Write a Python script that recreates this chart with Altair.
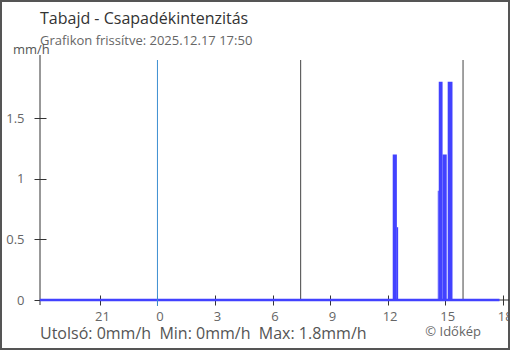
import altair as alt
import pandas as pd

TITLE = "Tabajd - Csapadékintenzitás"
SUBTITLE = "Grafikon frissítve: 2025.12.17 17:50"
UNIT = "mm/h"
CREDIT = "© Időkép"

WINDOW_START = "17:52"   # previous day
WINDOW_END = "17:50"

BAR_START = ["12:16", "12:29", "14:37", "14:40", "14:52", "15:08"]
BAR_END = ["12:29", "12:33", "14:40", "14:52", "15:05", "15:23"]
BAR_VALUE = [1.2, 0.6, 0.9, 1.8, 1.2, 1.8]

MIDNIGHT = ["00:00"]
SUN_LINES = ["07:28", "15:56"]

X_TICKS = [-3, 0, 3, 6, 9, 12, 15, 18]
Y_TICKS = [0, 0.5, 1, 1.5]

STAT_NAMES = ["Utolsó", "Min", "Max"]
STAT_VALUES = [0, 0, 1.8]

FONT = "Open Sans"
BLUE = "#4242ff"


def hours(t, prev_day=False):
    h, m = map(int, t.split(":"))
    v = h + m / 60
    return v - 24 if prev_day else v


W, H = 469, 245
x_scale = alt.Scale(domain=[-6.125, 18.33], nice=False, zero=False)
y_scale = alt.Scale(domain=[0, 2.02], nice=False)

X_AXIS = alt.Axis(values=X_TICKS, title=None, grid=False, domain=False, offset=-5,
                  tickSize=10, tickColor="#333", labelPadding=5, labelOffset=2,
                  labelFont=FONT, labelFontSize=13, labelColor="#666",
                  labelExpr="'' + (datum.value < 0 ? datum.value + 24 : datum.value)")
Y_AXIS = alt.Axis(values=Y_TICKS, title=None, grid=False, domain=False, offset=-6,
                  tickSize=12, tickColor="#333", labelPadding=10,
                  labelFont=FONT, labelFontSize=13, labelColor="#666",
                  labelExpr="'' + datum.value")

bars_df = pd.DataFrame({
    "s": [hours(t) for t in BAR_START],
    "e": [hours(t) for t in BAR_END],
    "v": BAR_VALUE,
    "b": [0] * len(BAR_VALUE),
})
base_df = pd.DataFrame({"s": [hours(WINDOW_START, True)], "e": [hours(WINDOW_END)], "v": [0]})
mid_df = pd.DataFrame({"t": [hours(t) for t in MIDNIGHT]})
sun_df = pd.DataFrame({"t": [hours(t) for t in SUN_LINES]})
one = pd.DataFrame({"k": [0]})

border = alt.Chart(one).mark_rect(fillOpacity=0, stroke="#555", strokeWidth=2).encode(
    x=alt.value(-39), x2=alt.value(469), y=alt.value(-54), y2=alt.value(294))

x_domain = alt.Chart(one).mark_rule(color="#333", strokeWidth=1).encode(
    x=alt.value(0), x2=alt.value(W), y=alt.value(H))
y_domain = alt.Chart(one).mark_rule(color="#333", strokeWidth=1).encode(
    x=alt.value(0), y=alt.value(0), y2=alt.value(H + 5))

sun = alt.Chart(sun_df).mark_rule(color="#444", strokeWidth=1).encode(
    x=alt.X("t:Q", scale=x_scale, axis=X_AXIS), y=alt.value(5), y2=alt.value(H))

bars = alt.Chart(bars_df).mark_rect(color=BLUE).encode(
    x=alt.X("s:Q", scale=x_scale, axis=X_AXIS), x2="e:Q",
    y=alt.Y("v:Q", scale=y_scale, axis=Y_AXIS), y2="b:Q")

baseline = alt.Chart(base_df).mark_rule(color=BLUE, strokeWidth=2.5).encode(
    x=alt.X("s:Q", scale=x_scale, axis=X_AXIS), x2="e:Q",
    y=alt.Y("v:Q", scale=y_scale, axis=Y_AXIS))

midnight = alt.Chart(mid_df).mark_rule(color="#3d8fd1", strokeWidth=1).encode(
    x=alt.X("t:Q", scale=x_scale, axis=X_AXIS), y=alt.value(5), y2=alt.value(H + 6))


def text_layer(txt, x, y, size, color, align="left"):
    return alt.Chart(pd.DataFrame({"t": [txt]})).mark_text(
        align=align, baseline="alphabetic", font=FONT, fontSize=size, color=color
    ).encode(x=alt.value(x), y=alt.value(y), text="t:N")


def fmt(v):
    return ("%g" % v)


stats_text = "\u00a0\u00a0".join(f"{n}: {fmt(v)}{UNIT}" for n, v in zip(STAT_NAMES, STAT_VALUES))

texts = [
    text_layer(TITLE, 0, -31.5, 16, "#333"),
    text_layer(SUBTITLE, 0, -10, 13, "#666"),
    text_layer(UNIT, -27, -1, 13, "#555"),
    text_layer(stats_text, 0, 284.3, 16, "#555"),
    text_layer(CREDIT, 441, 281, 13, "#666", align="right"),
]

chart = alt.layer(border, x_domain, y_domain, sun, bars, baseline, midnight, *texts).properties(
    width=W, height=H,
    autosize=alt.AutoSizeParams(type="none"),
    padding={"left": 40, "top": 55, "right": 1, "bottom": 50},
    background="white",
).configure_view(stroke=None)

chart.save("out.html", embed_options={"renderer": "svg", "actions": False})
